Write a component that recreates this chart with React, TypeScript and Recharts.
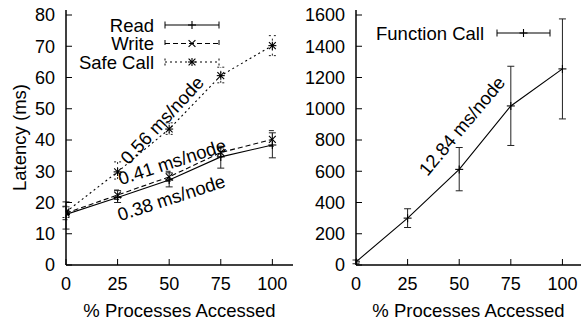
import { LineChart, Line, XAxis, YAxis, ErrorBar, ReferenceDot, Legend } from 'recharts';

// measurement points (% of processes accessed)
const pct = [0, 25, 50, 75, 100];

// left panel: latency in ms (mean, lower and upper bound of error bar)
const readMean = [16.2, 21.6, 27.2, 34.6, 38.4];
const readLow = [11.5, 20, 25, 31, 34.3];
const readHigh = [20.2, 23.8, 29.5, 37.5, 42.3];

const writeMean = [16.6, 22.4, 28.2, 36, 40.2];
const writeLow = [14.5, 21, 26.8, 34.5, 38];
const writeHigh = [18.8, 24, 30, 38, 43];

const safeMean = [17, 29.8, 43.5, 60.6, 70.2];
const safeLow = [15.2, 27.5, 41.8, 58.3, 67];
const safeHigh = [18.6, 33, 45.5, 63.3, 73.4];

// right panel
const callMean = [20, 300, 612, 1018, 1255];
const callLow = [8, 240, 475, 765, 935];
const callHigh = [32, 360, 752, 1272, 1575];

const xTicks = [0, 25, 50, 75, 100];
const leftYTicks = [0, 10, 20, 30, 40, 50, 60, 70, 80];
const rightYTicks = [0, 200, 400, 600, 800, 1000, 1200, 1400, 1600];

const leftSeries = [
  { key: 'read', name: 'Read', mark: 'plus', dash: undefined as string | undefined },
  { key: 'write', name: 'Write', mark: 'cross', dash: '5 3' },
  { key: 'safe', name: 'Safe Call', mark: 'star', dash: '2 3' },
];
const rightSeries = [{ key: 'call', name: 'Function Call', mark: 'plus', dash: undefined as string | undefined }];

const leftNotes = [
  { text: '0.56 ms/node', x: 46.5, y: 46.4, angle: -47 },
  { text: '0.41 ms/node', x: 51.4, y: 33.1, angle: -18 },
  { text: '0.38 ms/node', x: 51, y: 21.6, angle: -18 },
];
const rightNotes = [{ text: '12.84 ms/node', x: 51.2, y: 891, angle: -50 }];

const err = (m: number, lo: number, hi: number) => [m - lo, hi - m];

const leftData = pct.map((p, i) => ({
  x: p,
  read: readMean[i],
  readErr: err(readMean[i], readLow[i], readHigh[i]),
  write: writeMean[i],
  writeErr: err(writeMean[i], writeLow[i], writeHigh[i]),
  safe: safeMean[i],
  safeErr: err(safeMean[i], safeLow[i], safeHigh[i]),
}));

const rightData = pct.map((p, i) => ({
  x: p,
  call: callMean[i],
  callErr: err(callMean[i], callLow[i], callHigh[i]),
}));

const FONT = '"Liberation Sans", Arial, Helvetica, sans-serif';

function Glyph({ cx, cy, kind, s = 4 }: { cx: number; cy: number; kind: string; s?: number }) {
  const segs: number[][] = [];
  if (kind === 'plus' || kind === 'star') {
    segs.push([cx - s, cy, cx + s, cy], [cx, cy - s, cx, cy + s]);
  }
  if (kind === 'cross' || kind === 'star') {
    const d = s * 0.85;
    segs.push([cx - d, cy - d, cx + d, cy + d], [cx - d, cy + d, cx + d, cy - d]);
  }
  return (
    <g>
      {segs.map((l, i) => (
        <line key={i} x1={l[0]} y1={l[1]} x2={l[2]} y2={l[3]} stroke="#000" strokeWidth={1.1} />
      ))}
    </g>
  );
}

const dotFor = (kind: string) => (p: any) => {
  const { cx, cy, key, index } = p;
  if (cx == null || cy == null) return <g key={key ?? index} />;
  return (
    <g key={key ?? `d${index}`}>
      <Glyph cx={cx} cy={cy} kind={kind} />
    </g>
  );
};

const noteShape = (text: string, angle: number) => (p: any) => {
  const { cx, cy } = p;
  return (
    <text
      x={cx}
      y={cy}
      transform={`rotate(${angle} ${cx} ${cy})`}
      textAnchor="middle"
      dy="0.36em"
      fontSize={18.5}
      fill="#000"
      fontFamily={FONT}
    >
      {text}
    </text>
  );
};

function LegendSvg({
  items,
  textRight,
  x1,
  x2,
  y0,
  step,
}: {
  items: typeof leftSeries;
  textRight: number;
  x1: number;
  x2: number;
  y0: number;
  step: number;
}) {
  return (
    <svg width={300} height={90} style={{ display: 'block', overflow: 'visible' }}>
      {items.map((it, i) => {
        const y = y0 + i * step;
        const mid = (x1 + x2) / 2;
        return (
          <g key={it.key}>
            <text x={textRight} y={y + 6.5} textAnchor="end" fontSize={18.5} fill="#000" fontFamily={FONT}>
              {it.name}
            </text>
            <line x1={x1} x2={x2} y1={y} y2={y} stroke="#000" strokeWidth={1.1} strokeDasharray={it.dash} />
            <line x1={x1} x2={x1} y1={y - 3.5} y2={y + 3.5} stroke="#000" strokeDasharray={it.dash} />
            <line x1={x2} x2={x2} y1={y - 3.5} y2={y + 3.5} stroke="#000" strokeDasharray={it.dash} />
            <Glyph cx={mid} cy={y} kind={it.mark} />
          </g>
        );
      })}
    </svg>
  );
}

const tickStyle = { fill: '#000', fontSize: 18, fontFamily: FONT };
const axisLine = { stroke: '#000', strokeWidth: 1.5 };
const tickLine = { stroke: '#000', strokeWidth: 1 };
const blank = () => <g />;

export default function App() {
  return (
    <div
      style={{
        position: 'absolute',
        left: 0,
        top: 0,
        width: 583,
        height: 322,
        background: '#fff',
        display: 'flex',
        fontFamily: FONT,
      }}
    >
      <LineChart width={300} height={322} data={leftData} margin={{ top: 10, right: 7, left: 0, bottom: 0 }}>
        <XAxis
          dataKey="x"
          type="number"
          domain={[0, 110]}
          ticks={xTicks}
          interval={0}
          allowDataOverflow
          height={57}
          tickSize={-6}
          tickMargin={18}
          tick={tickStyle}
          axisLine={axisLine}
          tickLine={tickLine}
          label={{ value: '% Processes Accessed', position: 'insideBottom', offset: 5, fill: '#000', fontSize: 18.5 }}
        />
        <XAxis
          xAxisId="top"
          orientation="top"
          dataKey="x"
          type="number"
          domain={[0, 110]}
          ticks={xTicks}
          interval={0}
          allowDataOverflow
          height={0}
          tickSize={-6}
          tick={blank}
          axisLine={axisLine}
          tickLine={tickLine}
        />
        <YAxis
          type="number"
          domain={[0, 81.6]}
          ticks={leftYTicks}
          interval={0}
          allowDataOverflow
          width={66}
          tickSize={-6}
          tickMargin={17}
          tick={tickStyle}
          axisLine={axisLine}
          tickLine={tickLine}
          label={{
            value: 'Latency (ms)',
            angle: -90,
            position: 'insideLeft',
            offset: 19,
            fill: '#000',
            fontSize: 18.5,
            style: { textAnchor: 'middle' },
          }}
        />
        <YAxis
          yAxisId="mirror"
          orientation="right"
          type="number"
          domain={[0, 81.6]}
          ticks={leftYTicks}
          interval={0}
          allowDataOverflow
          width={0}
          tickSize={-6}
          tick={blank}
          axisLine={axisLine}
          tickLine={tickLine}
        />
        {leftSeries.map((s) => (
          <Line
            key={s.key}
            dataKey={s.key}
            name={s.name}
            type="linear"
            stroke="#000"
            strokeWidth={1.1}
            strokeDasharray={s.dash}
            dot={dotFor(s.mark)}
            activeDot={false}
            isAnimationActive={false}
          >
            <ErrorBar dataKey={`${s.key}Err`} direction="y" width={3.5} stroke="#222" strokeWidth={1} strokeDasharray={s.dash} />
          </Line>
        ))}
        {leftNotes.map((n) => (
          <ReferenceDot key={n.text} x={n.x} y={n.y} r={0} shape={noteShape(n.text, n.angle)} />
        ))}
        <Legend
          layout="vertical"
          align="center"
          verticalAlign="middle"
          wrapperStyle={{ left: 0, top: 0, width: 300, height: 90 }}
          content={() => <LegendSvg items={leftSeries} textRight={154} x1={165} x2={219} y0={25} step={18.5} />}
        />
      </LineChart>

      <LineChart width={283} height={322} data={rightData} margin={{ top: 10, right: 2, left: 0, bottom: 0 }}>
        <XAxis
          dataKey="x"
          type="number"
          domain={[0, 109]}
          ticks={xTicks}
          interval={0}
          allowDataOverflow
          height={57}
          tickSize={-6}
          tickMargin={18}
          tick={tickStyle}
          axisLine={axisLine}
          tickLine={tickLine}
          label={{ value: '% Processes Accessed', position: 'insideBottom', offset: 5, fill: '#000', fontSize: 18.5 }}
        />
        <XAxis
          xAxisId="top"
          orientation="top"
          dataKey="x"
          type="number"
          domain={[0, 109]}
          ticks={xTicks}
          interval={0}
          allowDataOverflow
          height={0}
          tickSize={-6}
          tick={blank}
          axisLine={axisLine}
          tickLine={tickLine}
        />
        <YAxis
          type="number"
          domain={[0, 1632]}
          ticks={rightYTicks}
          interval={0}
          allowDataOverflow
          width={56}
          tickSize={-6}
          tickMargin={17}
          tick={tickStyle}
          axisLine={axisLine}
          tickLine={tickLine}
        />
        <YAxis
          yAxisId="mirror"
          orientation="right"
          type="number"
          domain={[0, 1632]}
          ticks={rightYTicks}
          interval={0}
          allowDataOverflow
          width={0}
          tickSize={-6}
          tick={blank}
          axisLine={axisLine}
          tickLine={tickLine}
        />
        {rightSeries.map((s) => (
          <Line
            key={s.key}
            dataKey={s.key}
            name={s.name}
            type="linear"
            stroke="#000"
            strokeWidth={1.1}
            dot={dotFor(s.mark)}
            activeDot={false}
            isAnimationActive={false}
          >
            <ErrorBar dataKey={`${s.key}Err`} direction="y" width={3.5} stroke="#222" strokeWidth={1} />
          </Line>
        ))}
        {rightNotes.map((n) => (
          <ReferenceDot key={n.text} x={n.x} y={n.y} r={0} shape={noteShape(n.text, n.angle)} />
        ))}
        <Legend
          layout="vertical"
          align="center"
          verticalAlign="middle"
          wrapperStyle={{ left: 0, top: 0, width: 283, height: 60 }}
          content={() => <LegendSvg items={rightSeries} textRight={184} x1={197} x2={250} y0={33} step={18.5} />}
        />
      </LineChart>
    </div>
  );
}
